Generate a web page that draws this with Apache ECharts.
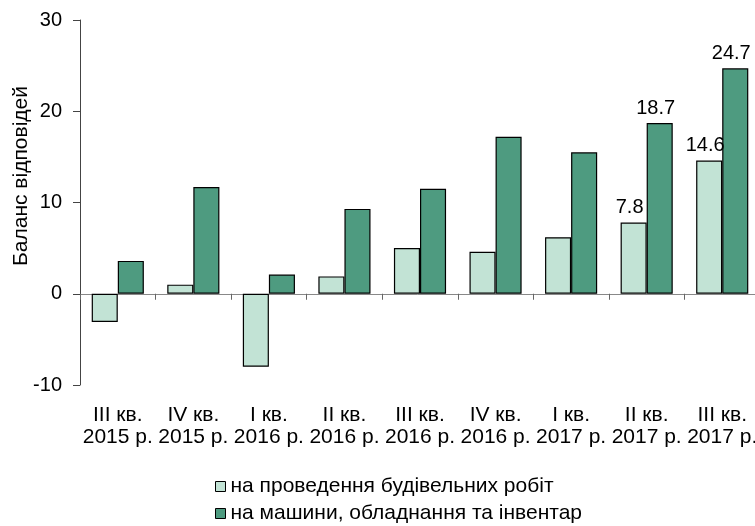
<!DOCTYPE html>
<html>
<head>
<meta charset="utf-8">
<script src="https://cdn.jsdelivr.net/npm/echarts@6/dist/echarts.min.js"></script>
<style>
  html, body { margin: 0; padding: 0; background: #fff; }
  #chart { width: 755px; height: 526px; }
</style>
</head>
<body>
<div id="chart"></div>
<script>
// quarters and years for the category labels
const quarters = ['III кв.', 'IV кв.', 'I кв.', 'II кв.', 'III кв.', 'IV кв.', 'I кв.', 'II кв.', 'III кв.']
const years = ['2015 р.', '2015 р.', '2016 р.', '2016 р.', '2016 р.', '2016 р.', '2017 р.', '2017 р.', '2017 р.']
const categories = quarters.map((q, i) => q + '\n' + years[i])

const seriesNames = ['на проведення будівельних робіт', 'на машини, обладнання та інвентар']
const buildingWorks = [-3.1, 1.0, -8.0, 1.9, 5.0, 4.6, 6.2, 7.8, 14.6]
const machinery = [3.6, 11.7, 2.1, 9.3, 11.5, 17.2, 15.5, 18.7, 24.7]
const labelled = [7, 8] // only these categories get value labels

const yTicks = { min: -10, max: 30, interval: 10 }

const font = 'Liberation Sans, Arial, sans-serif'

function withLabels(values) {
  return values.map((v, i) => labelled.includes(i)
    ? { value: v, label: { show: true } }
    : v)
}

const chart = echarts.init(document.getElementById('chart'))
const option = {
  animation: false,
  textStyle: { fontFamily: font, color: '#000' },
  grid: {
    left: 80, right: -5, top: 20, bottom: 141,
    containLabel: false,
    outerBoundsMode: 'none'
  },
  legend: {
    orient: 'vertical',
    left: 215,
    top: 476,
    padding: 0,
    itemWidth: 10,
    itemHeight: 10,
    itemGap: 6,
    icon: 'rect',
    itemStyle: { borderColor: '#000', borderWidth: 1 },
    textStyle: { fontFamily: font, fontSize: 21, lineHeight: 20, color: '#000' },
    data: seriesNames
  },
  xAxis: [
    {
      type: 'category',
      data: categories,
      position: 'bottom',
      axisLine: { show: false, onZero: false },
      axisTick: { show: false },
      axisLabel: {
        interval: 0,
        margin: 19,
        fontFamily: font,
        fontSize: 21,
        lineHeight: 22,
        color: '#000'
      }
    },
    {
      // zero line with the category ticks
      type: 'category',
      data: categories,
      position: 'bottom',
      axisLine: { show: true, onZero: true, lineStyle: { color: '#888', width: 1 } },
      axisTick: { show: true, interval: 0, length: 6, lineStyle: { color: '#666' } },
      axisLabel: { show: false }
    }
  ],
  yAxis: {
    type: 'value',
    min: yTicks.min,
    max: yTicks.max,
    interval: yTicks.interval,
    name: 'Баланс відповідей',
    nameLocation: 'middle',
    nameGap: 48,
    nameMoveOverlap: false,
    nameTextStyle: {
      fontFamily: font,
      fontSize: 21,
      color: '#000',
      padding: [0, 0, 0, 53]
    },
    axisLine: { show: true, lineStyle: { color: '#444', width: 1 } },
    axisTick: { show: true, length: 7, lineStyle: { color: '#444' } },
    splitLine: { show: false },
    axisLabel: { margin: 18, fontFamily: font, fontSize: 20, color: '#000' }
  },
  series: [
    {
      name: seriesNames[0],
      type: 'bar',
      xAxisIndex: 0,
      data: withLabels(buildingWorks),
      barGap: '0%',
      barCategoryGap: '31%',
      itemStyle: { color: '#c2e3d5', borderColor: '#000', borderWidth: 1.2 },
      label: {
        show: false,
        position: 'top',
        offset: [-4, 0],
        fontFamily: font,
        fontSize: 20,
        color: '#000'
      }
    },
    {
      name: seriesNames[1],
      type: 'bar',
      xAxisIndex: 0,
      data: withLabels(machinery),
      barGap: '0%',
      barCategoryGap: '31%',
      itemStyle: { color: '#4e9b80', borderColor: '#000', borderWidth: 1.2 },
      label: {
        show: false,
        position: 'top',
        offset: [-4, 0],
        fontFamily: font,
        fontSize: 20,
        color: '#000'
      }
    }
  ]
}
chart.setOption(option)
</script>
</body>
</html>
